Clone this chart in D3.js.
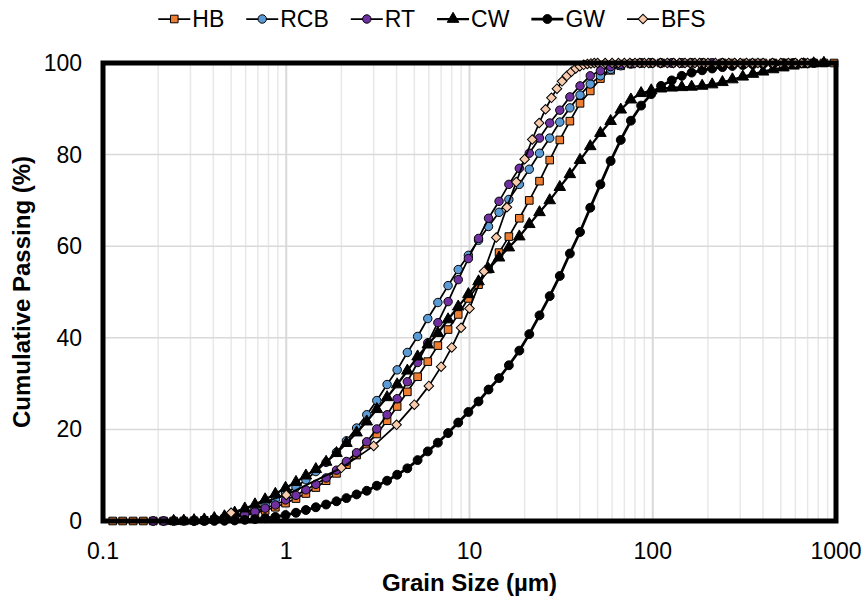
<!DOCTYPE html>
<html lang="en">
<head>
<meta charset="UTF-8">
<title>Grain size distribution</title>
<script src="https://d3js.org/d3.v7.min.js"></script>
<style>
  body { margin: 0; background: #fff; }
  svg text { font-family: Arial, "Liberation Sans", sans-serif; fill: #000; }
</style>
</head>
<body>
<div id="chart"></div>
<script>
// laser diffraction size classes (µm)
const sizes = [0.113, 0.128, 0.146, 0.166, 0.188, 0.214, 0.243, 0.276, 0.314, 0.357, 0.405, 0.46,
  0.523, 0.594, 0.675, 0.767, 0.872, 0.991, 1.13, 1.28, 1.45, 1.65, 1.88, 2.13,
  2.42, 2.75, 3.12, 3.55, 4.03, 4.58, 5.21, 5.92, 6.72, 7.64, 8.68, 9.86,
  11.2, 12.7, 14.5, 16.4, 18.7, 21.2, 24.1, 27.4, 31.1, 35.3, 40.1, 45.6,
  51.8, 58.9, 66.9, 76, 86.4, 98.1, 111, 127, 144, 163, 186, 211,
  240, 272, 310, 352, 400, 454, 516, 586, 666, 756, 859, 976];

// cumulative passing (%) per class, null = no point
const hb = [0, 0, 0, 0, 0, 0, 0, 0, 0.05, 0.15, 0.3, 0.5,
  0.8, 1.2, 1.7, 2.3, 3.0, 3.9, 4.9, 6.0, 7.3, 8.8, 10.4, 12.3,
  14.4, 16.8, 19.0, 21.9, 25.0, 28.2, 31.5, 34.8, 38.3, 41.8, 45.1, 48.6,
  51.6, 55.0, 58.6, 62.1, 66.1, 70.0, 74.2, 78.8, 83.2, 87.3, 91.2, 93.9,
  96.6, 98.4, 99.4, 99.8, 100, 100, 100, 100, 100, 100, 100, 100,
  100, 100, 100, 100, 100, 100, 100, 100, 100, 100, 100, 100];
const rcb = [null, null, null, null, 0, 0, 0, 0.02, 0.05, 0.15, 0.35, 0.7,
  1.2, 1.8, 2.6, 3.6, 4.7, 6.0, 7.4, 9.0, 10.8, 12.8, 15.0, 17.5,
  20.3, 23.2, 26.3, 29.8, 33.0, 36.8, 40.3, 44.2, 47.7, 51.4, 54.9, 58.0,
  61.3, 64.3, 67.4, 70.2, 73.5, 76.8, 80.3, 83.6, 87.1, 90.2, 93.0, 95.4,
  97.2, 98.6, 99.4, 99.8, 100, 100, 100, 100, 100, 100, 100, 100,
  100, null, null, null, null, null, null, null, null, null, null, null];
const rt = [null, null, null, null, 0, 0, 0.02, 0.05, 0.1, 0.2, 0.35, 0.6,
  0.9, 1.4, 2.0, 2.8, 3.5, 4.6, 5.6, 6.8, 8.0, 9.4, 11.1, 13.0,
  14.9, 17.3, 20.1, 23.2, 26.7, 30.4, 34.6, 38.9, 43.3, 47.9, 52.7, 57.3,
  61.7, 66.1, 69.8, 73.5, 77.0, 80.3, 83.6, 86.9, 89.7, 92.6, 95.0, 97.2,
  98.3, 99.2, 99.7, 99.9, 100, 100, 100, 100, 100, 100, 100, 100,
  100, null, null, null, null, null, null, null, null, null, null, null];
const cw = [null, null, null, null, null, null, 0, 0.05, 0.15, 0.3, 0.6, 1.0,
  1.8, 2.7, 3.6, 4.7, 5.9, 7.2, 8.5, 9.9, 11.3, 12.9, 14.8, 17.0,
  19.3, 21.7, 24.4, 27.0, 29.8, 32.8, 35.9, 38.5, 41.0, 44.0, 46.8, 49.5,
  52.3, 55.0, 57.5, 59.7, 62.1, 64.8, 67.4, 70.0, 72.9, 75.7, 78.8, 81.8,
  84.7, 87.3, 89.8, 92.0, 93.4, 94.0, 94.4, 94.6, 94.7, 94.8, 95.0, 95.3,
  95.8, 96.4, 97.0, 97.6, 98.1, 98.6, 99.0, 99.4, 99.7, 99.9, 100, null];
const gw = [null, null, null, null, null, null, null, null, 0, 0, 0.02, 0.05,
  0.12, 0.25, 0.4, 0.6, 0.9, 1.3, 1.8, 2.4, 3.0, 3.6, 4.3, 5.0,
  5.8, 6.6, 7.7, 8.8, 10.1, 11.5, 13.3, 15.2, 17.1, 19.2, 21.5, 23.8,
  26.1, 28.7, 31.2, 34.0, 37.2, 40.8, 44.9, 49.1, 53.5, 58.4, 63.1, 68.4,
  73.5, 78.6, 83.2, 87.4, 90.7, 93.2, 95.0, 96.2, 97.2, 97.9, 98.4, 98.8,
  99.1, 99.35, 99.55, 99.7, 99.8, 99.9, 99.95, 100, 100, 100, null, null];

// BFS was measured on its own size steps
const bfsSizes = [0.5, 1, 2, 3, 4, 5, 6, 7, 8, 9, 10, 12, 14, 16, 18, 20, 22, 24, 26, 28,
  30, 32, 34, 36, 38, 40, 42, 44, 46, 48, 50, 55, 60, 65, 70, 75, 80, 85, 90, 95,
  100, 110, 120, 130, 140, 150, 160, 170, 180, 190, 200, 220, 240, 260, 280, 300,
  325, 350, 375, 400, 450, 500, 550, 600, 650, 700];
const bfs = [1.8, 5.7, 11.6, 16.4, 21.0, 25.4, 29.5, 33.7, 37.9, 42.2, 46.4, 54.5, 61.9, 68.5, 74.0, 79.0, 83.3, 86.9, 89.9, 92.4,
  94.4, 96.0, 97.2, 98.1, 98.8, 99.3, 99.6, 99.8, 99.9, 100, 100, 100, 100, 100, 100, 100, 100, 100, 100, 100,
  100, 100, 100, 100, 100, 100, 100, 100, 100, 100, 100, 100, 100, 100, 100, 100,
  100, 100, 100, 100, 100, 100, 100, 100, 100, 100];

const xTicks = [0.1, 1, 10, 100, 1000];
const yTicks = [0, 20, 40, 60, 80, 100];

const width = 864, height = 600;
const margin = { top: 63, right: 28, bottom: 79, left: 103 };
const iw = width - margin.left - margin.right;
const ih = height - margin.top - margin.bottom;

const svg = d3.select("#chart").append("svg")
  .attr("width", width)
  .attr("height", height);

const x = d3.scaleLog().domain([0.1, 1000]).range([0, iw]);
const y = d3.scaleLinear().domain([0, 100]).range([ih, 0]);

const g = svg.append("g").attr("transform", `translate(${margin.left},${margin.top})`);

// minor vertical grid (2..9 in each decade)
const minor = x.ticks().filter(v => xTicks.indexOf(v) < 0);
g.append("g").selectAll("line").data(minor).enter().append("line")
  .attr("x1", d => x(d)).attr("x2", d => x(d))
  .attr("y1", 0).attr("y2", ih)
  .attr("stroke", "#e8e8e8").attr("stroke-width", 1.5);

// major grid
g.append("g").selectAll("line").data(xTicks).enter().append("line")
  .attr("x1", d => x(d)).attr("x2", d => x(d))
  .attr("y1", 0).attr("y2", ih)
  .attr("stroke", "#d9d9d9").attr("stroke-width", 2);
g.append("g").selectAll("line").data(yTicks).enter().append("line")
  .attr("x1", 0).attr("x2", iw)
  .attr("y1", d => y(d)).attr("y2", d => y(d))
  .attr("stroke", "#d9d9d9").attr("stroke-width", 1.5);

const series = [
  { name: "HB", xs: sizes, ys: hb, sym: d3.symbolSquare, size: 58, fill: "#ED7D31", lw: 1.75 },
  { name: "RCB", xs: sizes, ys: rcb, sym: d3.symbolCircle, size: 56, fill: "#5B9BD5", lw: 1.75 },
  { name: "RT", xs: sizes, ys: rt, sym: d3.symbolCircle, size: 56, fill: "#7030A0", lw: 1.75 },
  { name: "CW", xs: sizes, ys: cw, sym: d3.symbolTriangle, size: 58, fill: "#000", lw: 2.25 },
  { name: "GW", xs: sizes, ys: gw, sym: d3.symbolCircle, size: 62, fill: "#000", lw: 2.75 },
  { name: "BFS", xs: bfsSizes, ys: bfs, sym: "diamond", size: 46, fill: "#F8CBAD", lw: 1.75 }
];

function symPath(s) {
  if (s.sym === "diamond") return d3.symbol().type(d3.symbolSquare).size(s.size)();
  return d3.symbol().type(s.sym).size(s.size)();
}
function symRotate(s) { return s.sym === "diamond" ? " rotate(45)" : ""; }

const line = d3.line()
  .x(d => x(d[0]))
  .y(d => y(d[1]));

series.forEach(s => {
  const pts = s.xs.map((v, i) => [v, s.ys[i]]).filter(d => d[1] != null);
  const sg = g.append("g").attr("class", "series");
  sg.append("path")
    .attr("d", line(pts))
    .attr("fill", "none")
    .attr("stroke", "#000")
    .attr("stroke-width", s.lw);
  sg.selectAll("path.mk").data(pts).enter().append("path")
    .attr("class", "mk")
    .attr("d", symPath(s))
    .attr("transform", d => `translate(${x(d[0])},${y(d[1])})` + symRotate(s))
    .attr("fill", s.fill)
    .attr("stroke", "#000")
    .attr("stroke-width", 1);
});

// heavy plot border
g.append("rect")
  .attr("x", 0).attr("y", 0)
  .attr("width", iw).attr("height", ih)
  .attr("fill", "none")
  .attr("stroke", "#000")
  .attr("stroke-width", 5);

// tick labels
g.append("g").selectAll("text").data(yTicks).enter().append("text")
  .attr("x", -21).attr("y", d => y(d))
  .attr("dy", "0.35em")
  .attr("text-anchor", "end")
  .style("font-size", "23px")
  .text(d => d);
g.append("g").selectAll("text").data(xTicks).enter().append("text")
  .attr("x", d => x(d)).attr("y", ih + 38)
  .attr("text-anchor", "middle")
  .style("font-size", "23px")
  .text(d => d);

// axis titles
svg.append("text")
  .attr("x", margin.left + iw / 2).attr("y", 591)
  .attr("text-anchor", "middle")
  .style("font-size", "24px").style("font-weight", "bold")
  .text("Grain Size (µm)");
svg.append("text")
  .attr("transform", `translate(30,${margin.top + ih / 2}) rotate(-90)`)
  .attr("text-anchor", "middle")
  .style("font-size", "24px").style("font-weight", "bold")
  .text("Cumulative Passing (%)");

// legend, centred on the figure
const lg = svg.append("g");
let cx = 0;
series.forEach(s => {
  const it = lg.append("g").attr("transform", `translate(${cx},0)`);
  it.append("line").attr("x1", 0).attr("x2", 32).attr("y1", 0).attr("y2", 0)
    .attr("stroke", "#000").attr("stroke-width", s.lw);
  it.append("path").attr("d", symPath(s))
    .attr("transform", "translate(16,0)" + symRotate(s))
    .attr("fill", s.fill).attr("stroke", "#000").attr("stroke-width", 1);
  const t = it.append("text").attr("x", 34).attr("y", 0).attr("dy", "0.35em")
    .style("font-size", "23px").text(s.name);
  cx += 34 + t.node().getComputedTextLength() + 22;
});
const lw = cx - 22;
lg.attr("transform", `translate(${width / 2 - lw / 2},19)`);
</script>
</body>
</html>
